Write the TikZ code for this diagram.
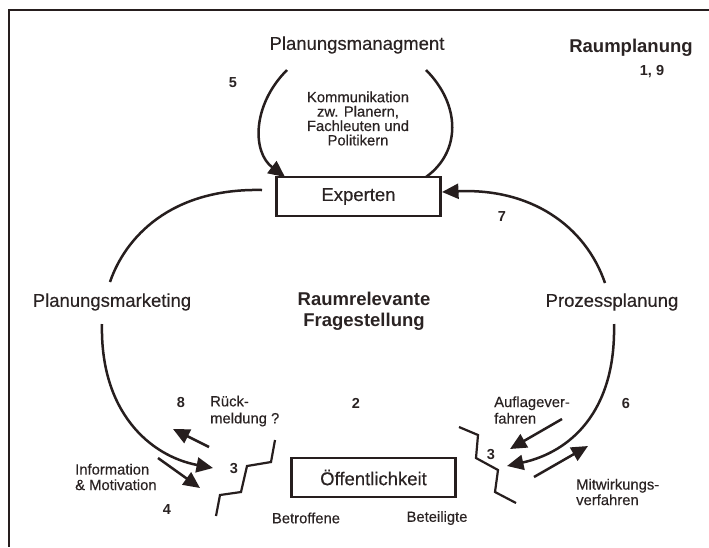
\documentclass[tikz,border=0pt]{standalone}
\usepackage{fontspec}
\setmainfont{Liberation Sans}
\newfontfamily\regfont{Liberation Sans}[FakeBold=0.35]
\usetikzlibrary{arrows.meta}
\definecolor{ink}{RGB}{38,30,30}
\definecolor{txt}{RGB}{42,35,35}
\begin{document}
\begin{tikzpicture}[x=1pt,y=-1pt,
  every node/.style={text=txt,inner sep=0pt},
  big/.style={font=\regfont\fontsize{18.5}{21}\selectfont},
  bigb/.style={font=\fontsize{18.5}{21}\selectfont\bfseries},
  num/.style={font=\fontsize{14.5}{16}\selectfont\bfseries},
  boxed/.style={draw=ink,line width=2.2pt,minimum width=164pt,minimum height=39pt,font=\regfont\fontsize{18.5}{21}\selectfont},
  curve/.style={draw=ink,line width=2.5pt},
  arr/.style={curve,-{Triangle[length=16.5pt,width=15pt]}},
  zig/.style={draw=ink,line width=2.2pt,line join=miter}]
\useasboundingbox (0,0) rectangle (709,547);
\fill[white] (0,0) rectangle (709,547);
% frame
\draw[ink,line width=1.6pt] (709,10) -- (9,10) -- (9,547);

% boxes
\node[boxed] (exp) at (358.5,196.5) {Experten};
\node[boxed] (oef) at (373.5,477.5) {Öffentlichkeit};

% labels
\node[big] (pm) at (357,45) {Planungsmanagment};
\node[bigb] (rp) at (631,48) {Raumplanung};
\node[num] (n19) at (652,72) {1, 9};
\node[num] (n5) at (233,83) {5};
\node[align=center,font=\regfont\fontsize{14.8}{14.4}\selectfont] (komm) at (358,118.5) {Kommunikation\\zw. Planern,\\Fachleuten und\\Politikern};
\node[num] (n7) at (502,217) {7};
\node[big] (pmk) at (112,302) {Planungsmarketing};
\node[bigb,align=center] (rf) at (364,311.5) {Raumrelevante\\Fragestellung};
\node[big] (pzp) at (612,302) {Prozessplanung};
\node[num] (n8) at (181,402) {8};
\node[anchor=west,align=left,font=\regfont\fontsize{14.8}{17}\selectfont] (rueck) at (210,411) {Rück-\\meldung ?};
\node[num] (n2) at (356,403) {2};
\node[anchor=west,align=left,font=\regfont\fontsize{14.8}{16.5}\selectfont] (aufl) at (494,410) {Auflagever-\\fahren};
\node[num] (n6) at (626,403) {6};
\node[anchor=west,align=left,font=\regfont\fontsize{14.8}{15.5}\selectfont] (info) at (75,477) {Information\\\& Motivation};
\node[num] (n4) at (167,510) {4};
\node[num] (n3a) at (234,469) {3};
\node[num] (n3b) at (491,455) {3};
\node[anchor=west,align=left,font=\regfont\fontsize{14.8}{15.5}\selectfont] (mitw) at (576,492) {Mitwirkungs-\\verfahren};
\node[font=\regfont\fontsize{14.8}{16}\selectfont] (betr) at (306,518) {Betroffene};
\node[font=\regfont\fontsize{14.8}{16}\selectfont] (bete) at (437,518) {Beteiligte};

% named end points
\coordinate (pmL) at (287,70);
\coordinate (pmR) at (426,70);
\coordinate (expTL) at (285,177);
\coordinate (expTR) at (426,177);
\coordinate (expL) at (262,190);
\coordinate (expR) at (442,192);
\coordinate (pmkT) at (110,282);
\coordinate (pmkB) at (102,324);
\coordinate (pzpT) at (605,283);
\coordinate (pzpB) at (614,324);
\coordinate (tipL) at (213,468);
\coordinate (tipR) at (507,466);

% top loop
\draw[arr] (pmL) .. controls (252,105) and (252,152) .. (expTL);
\draw[curve] (pmR) .. controls (461,105) and (461,152) .. (expTR);

% big arcs
\draw[curve] (expL) .. controls (170,188) and (125,238) .. (pmkT);
\draw[arr] (pzpT) .. controls (585,225) and (530,188) .. (expR);
\draw[arr] (pmkB) .. controls (100,412) and (150,456) .. (tipL);
\draw[arr] (pzpB) .. controls (616,412) and (570,452) .. (tipR);

% straight arrows
\coordinate (a8s) at (209,447); \coordinate (a8e) at (173,429);
\coordinate (ais) at (158,458); \coordinate (aie) at (200,488);
\coordinate (aas) at (562,419); \coordinate (aae) at (510,449);
\coordinate (ams) at (534,477); \coordinate (ame) at (588,446);
\draw[arr] (a8s) -- (a8e);
\draw[arr] (ais) -- (aie);
\draw[arr] (aas) -- (aae);
\draw[arr] (ams) -- (ame);

% zigzags
\draw[zig] (275,440) -- (271,462) -- (247,466) -- (241,492) -- (220,495) -- (216,516);
\draw[zig] (459,427) -- (478,435) -- (476,458) -- (498,470) -- (495,492) -- (516,503);
\end{tikzpicture}
\end{document}
